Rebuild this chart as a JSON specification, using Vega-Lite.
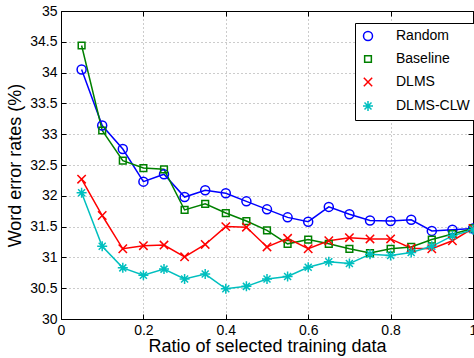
{
  "$schema": "https://vega.github.io/schema/vega-lite/v6.json",
  "autosize": "none",
  "width": 412,
  "height": 308,
  "padding": {"left": 61, "top": 11, "right": 1, "bottom": 39},
  "background": "white",
  "config": {
    "view": {"stroke": "black", "strokeWidth": 1},
    "font": "Liberation Sans",
    "axis": {
      "labelFont": "Liberation Sans",
      "labelFontSize": 14,
      "labelColor": "black",
      "titleFont": "Liberation Sans",
      "titleFontSize": 18,
      "titleFontWeight": "normal",
      "titleColor": "black",
      "domainColor": "black",
      "domainWidth": 1,
      "tickColor": "black",
      "tickWidth": 1,
      "tickSize": -5,
      "labelPadding": 9,
      "gridColor": "#999999",
      "gridDash": [1, 3],
      "gridWidth": 1
    }
  },
  "data": {
    "values": [
      {"series": "Random", "x": 0.05, "y": 34.05},
      {"series": "Random", "x": 0.10, "y": 33.14},
      {"series": "Random", "x": 0.15, "y": 32.76},
      {"series": "Random", "x": 0.20, "y": 32.23},
      {"series": "Random", "x": 0.25, "y": 32.35},
      {"series": "Random", "x": 0.30, "y": 31.98},
      {"series": "Random", "x": 0.35, "y": 32.09},
      {"series": "Random", "x": 0.40, "y": 32.04},
      {"series": "Random", "x": 0.45, "y": 31.91},
      {"series": "Random", "x": 0.50, "y": 31.78},
      {"series": "Random", "x": 0.55, "y": 31.65},
      {"series": "Random", "x": 0.60, "y": 31.58},
      {"series": "Random", "x": 0.65, "y": 31.82},
      {"series": "Random", "x": 0.70, "y": 31.70},
      {"series": "Random", "x": 0.75, "y": 31.60},
      {"series": "Random", "x": 0.80, "y": 31.59},
      {"series": "Random", "x": 0.85, "y": 31.61},
      {"series": "Random", "x": 0.90, "y": 31.43},
      {"series": "Random", "x": 0.95, "y": 31.45},
      {"series": "Random", "x": 1.00, "y": 31.47},
      {"series": "Baseline", "x": 0.05, "y": 34.44},
      {"series": "Baseline", "x": 0.10, "y": 33.06},
      {"series": "Baseline", "x": 0.15, "y": 32.57},
      {"series": "Baseline", "x": 0.20, "y": 32.45},
      {"series": "Baseline", "x": 0.25, "y": 32.43},
      {"series": "Baseline", "x": 0.30, "y": 31.77},
      {"series": "Baseline", "x": 0.35, "y": 31.87},
      {"series": "Baseline", "x": 0.40, "y": 31.72},
      {"series": "Baseline", "x": 0.45, "y": 31.59},
      {"series": "Baseline", "x": 0.50, "y": 31.44},
      {"series": "Baseline", "x": 0.55, "y": 31.22},
      {"series": "Baseline", "x": 0.60, "y": 31.29},
      {"series": "Baseline", "x": 0.65, "y": 31.22},
      {"series": "Baseline", "x": 0.70, "y": 31.14},
      {"series": "Baseline", "x": 0.75, "y": 31.07},
      {"series": "Baseline", "x": 0.80, "y": 31.14},
      {"series": "Baseline", "x": 0.85, "y": 31.17},
      {"series": "Baseline", "x": 0.90, "y": 31.29},
      {"series": "Baseline", "x": 0.95, "y": 31.38},
      {"series": "Baseline", "x": 1.00, "y": 31.47},
      {"series": "DLMS", "x": 0.05, "y": 32.27},
      {"series": "DLMS", "x": 0.10, "y": 31.68},
      {"series": "DLMS", "x": 0.15, "y": 31.14},
      {"series": "DLMS", "x": 0.20, "y": 31.19},
      {"series": "DLMS", "x": 0.25, "y": 31.20},
      {"series": "DLMS", "x": 0.30, "y": 31.01},
      {"series": "DLMS", "x": 0.35, "y": 31.21},
      {"series": "DLMS", "x": 0.40, "y": 31.50},
      {"series": "DLMS", "x": 0.45, "y": 31.49},
      {"series": "DLMS", "x": 0.50, "y": 31.17},
      {"series": "DLMS", "x": 0.55, "y": 31.31},
      {"series": "DLMS", "x": 0.60, "y": 31.14},
      {"series": "DLMS", "x": 0.65, "y": 31.27},
      {"series": "DLMS", "x": 0.70, "y": 31.32},
      {"series": "DLMS", "x": 0.75, "y": 31.30},
      {"series": "DLMS", "x": 0.80, "y": 31.30},
      {"series": "DLMS", "x": 0.85, "y": 31.15},
      {"series": "DLMS", "x": 0.90, "y": 31.14},
      {"series": "DLMS", "x": 0.95, "y": 31.27},
      {"series": "DLMS", "x": 1.00, "y": 31.47},
      {"series": "DLMS-CLW", "x": 0.05, "y": 32.05},
      {"series": "DLMS-CLW", "x": 0.10, "y": 31.18},
      {"series": "DLMS-CLW", "x": 0.15, "y": 30.83},
      {"series": "DLMS-CLW", "x": 0.20, "y": 30.71},
      {"series": "DLMS-CLW", "x": 0.25, "y": 30.81},
      {"series": "DLMS-CLW", "x": 0.30, "y": 30.65},
      {"series": "DLMS-CLW", "x": 0.35, "y": 30.73},
      {"series": "DLMS-CLW", "x": 0.40, "y": 30.49},
      {"series": "DLMS-CLW", "x": 0.45, "y": 30.53},
      {"series": "DLMS-CLW", "x": 0.50, "y": 30.65},
      {"series": "DLMS-CLW", "x": 0.55, "y": 30.69},
      {"series": "DLMS-CLW", "x": 0.60, "y": 30.84},
      {"series": "DLMS-CLW", "x": 0.65, "y": 30.93},
      {"series": "DLMS-CLW", "x": 0.70, "y": 30.90},
      {"series": "DLMS-CLW", "x": 0.75, "y": 31.05},
      {"series": "DLMS-CLW", "x": 0.80, "y": 31.03},
      {"series": "DLMS-CLW", "x": 0.85, "y": 31.08},
      {"series": "DLMS-CLW", "x": 0.90, "y": 31.18},
      {"series": "DLMS-CLW", "x": 0.95, "y": 31.35},
      {"series": "DLMS-CLW", "x": 1.00, "y": 31.45}
    ]
  },
  "layer": [
    {
      "mark": {"type": "line", "strokeWidth": 1.5},
      "encoding": {
        "x": {
          "field": "x", "type": "quantitative",
          "scale": {"domain": [0, 1], "nice": false, "zero": false},
          "axis": {"orient": "bottom", "values": [0, 0.2, 0.4, 0.6, 0.8, 1], "format": "~g", "grid": true, "title": "Ratio of selected training data", "titlePadding": 0, "labelFlush": false}
        },
        "y": {
          "field": "y", "type": "quantitative",
          "scale": {"domain": [30, 35], "nice": false, "zero": false},
          "axis": {"orient": "left", "values": [30, 30.5, 31, 31.5, 32, 32.5, 33, 33.5, 34, 34.5, 35], "format": "~g", "grid": true, "title": "Word error rates (%)", "titlePadding": 5, "labelFlush": false}
        },
        "color": {
          "field": "series", "type": "nominal",
          "scale": {"domain": ["Random", "Baseline", "DLMS", "DLMS-CLW"], "range": ["#0000ff", "#008000", "#ff0000", "#00bfbf"]}
        },
        "order": {"field": "x"}
      }
    },
    {
      "mark": {"type": "point", "filled": false, "strokeWidth": 1.5, "opacity": 1},
      "encoding": {
        "x": {
          "field": "x", "type": "quantitative",
          "axis": {"orient": "top", "values": [0, 0.2, 0.4, 0.6, 0.8, 1], "labels": false, "grid": false, "title": null}
        },
        "y": {
          "field": "y", "type": "quantitative",
          "axis": {"orient": "right", "values": [30, 30.5, 31, 31.5, 32, 32.5, 33, 33.5, 34, 34.5, 35], "labels": false, "grid": false, "title": null}
        },
        "color": {
          "field": "series", "type": "nominal",
          "scale": {"domain": ["Random", "Baseline", "DLMS", "DLMS-CLW"], "range": ["#0000ff", "#008000", "#ff0000", "#00bfbf"]},
          "legend": {
            "title": null,
            "orient": "none",
            "legendX": 294,
            "legendY": 12,
            "padding": 6,
            "fillColor": "white",
            "strokeColor": "black",
            "cornerRadius": 0,
            "labelFont": "Liberation Sans",
            "labelFontSize": 14,
            "labelColor": "black",
            "labelOffset": 21,
            "rowPadding": 8,
            "symbolSize": 81,
            "symbolStrokeWidth": 1.5
          }
        },
        "shape": {
          "field": "series", "type": "nominal",
          "scale": {"domain": ["Random", "Baseline", "DLMS", "DLMS-CLW"], "range": ["circle", "square", "M-1,-1L1,1M-1,1L1,-1", "M-1,0L1,0M0,-1L0,1M-0.7,-0.7L0.7,0.7M-0.7,0.7L0.7,-0.7"]}
        },
        "size": {
          "field": "series", "type": "nominal",
          "scale": {"type": "ordinal", "domain": ["Random", "Baseline", "DLMS", "DLMS-CLW"], "range": [81, 45, 70, 100]},
          "legend": null
        }
      }
    }
  ],
  "resolve": {"axis": {"x": "independent", "y": "independent"}}
}
